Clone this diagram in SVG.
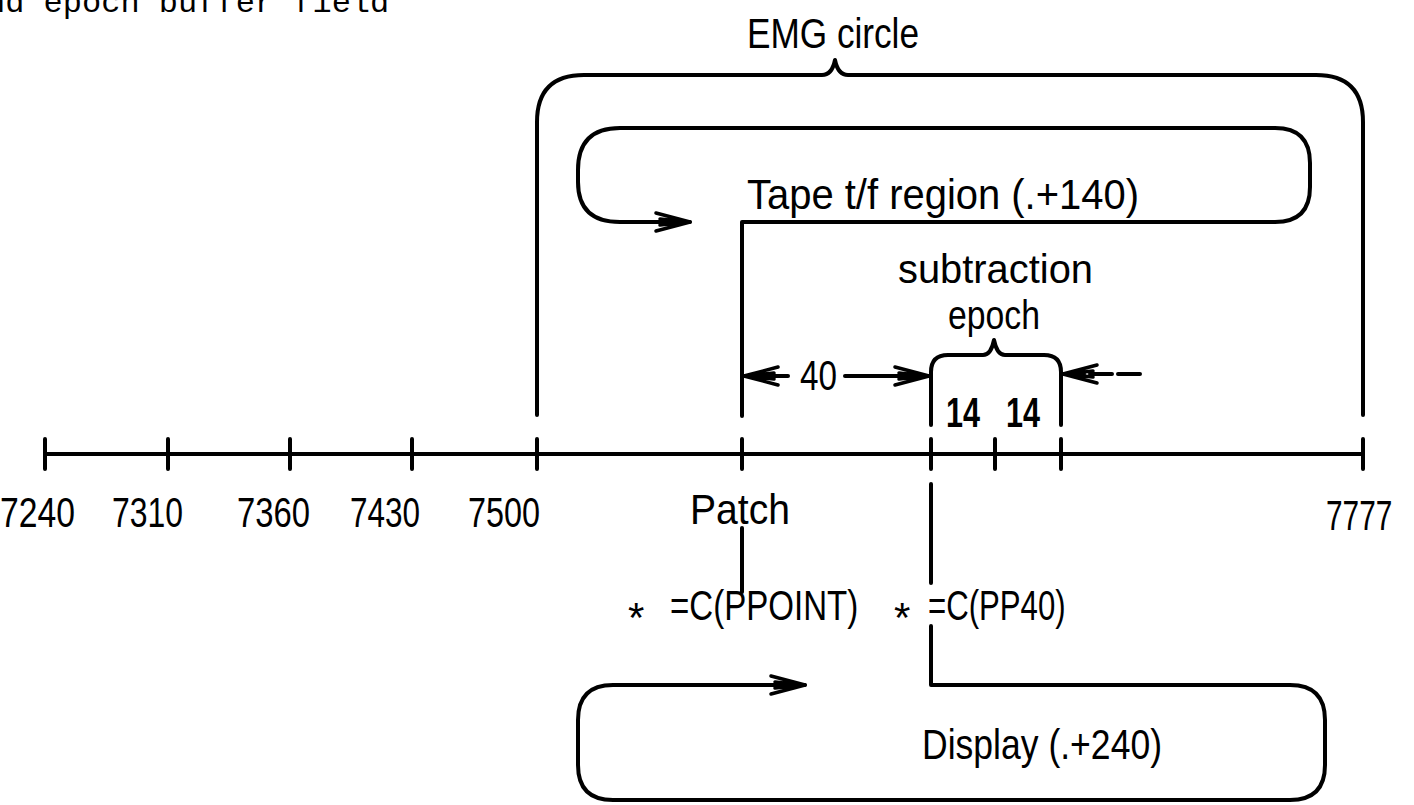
<svg xmlns="http://www.w3.org/2000/svg" width="1414" height="805" viewBox="0 0 1414 805">
<style>
.t{font-family:"Liberation Sans",Arial,sans-serif;font-size:42px;fill:#000}
.s{font-size:40px}
.b{font-weight:bold}
.tw{font-family:"Liberation Mono","Courier New",monospace;font-size:32px;fill:#000}
.ln{fill:none;stroke:#000;stroke-width:4;stroke-linecap:round;stroke-linejoin:round}
.ds{stroke-dasharray:22 6}
.tk{fill:none;stroke:#000;stroke-width:4;stroke-linecap:round}
</style>
<defs>
<marker id="ah" viewBox="-38 -12 42 24" refX="0" refY="0" markerWidth="42" markerHeight="24" markerUnits="userSpaceOnUse" orient="auto">
<path d="M-34,-9 L0,0 L-34,9 M-30,-3 L-2,0 L-30,3" fill="none" stroke="#000" stroke-width="3.5" stroke-linecap="round" stroke-linejoin="round"/>
</marker>
</defs>
<text class="tw" x="-14" y="12">nd epoch buffer field</text>
<g id="axis">
<path class="ln" d="M45,454 H1363"/>
<path class="tk" d="M45,439 V469 M168,439 V469 M290,439 V469 M412,439 V469 M537,439 V469 M742,439 V469 M931,439 V469 M995,439 V469 M1061,439 V469 M1363,439 V469"/>
<text class="t" x="0" y="527" textLength="75" lengthAdjust="spacingAndGlyphs">7240</text>
<text class="t" x="112" y="527" textLength="71" lengthAdjust="spacingAndGlyphs">7310</text>
<text class="t" x="237" y="527" textLength="73" lengthAdjust="spacingAndGlyphs">7360</text>
<text class="t" x="350" y="527" textLength="70" lengthAdjust="spacingAndGlyphs">7430</text>
<text class="t" x="468" y="527" textLength="72" lengthAdjust="spacingAndGlyphs">7500</text>
<text class="t" transform="translate(1326,530) scale(0.71,1)">7777</text>
</g>
<g id="patch">
<text class="t" x="690" y="524" textLength="100" lengthAdjust="spacingAndGlyphs">Patch</text>
</g>
<g id="emg-circle">
<text class="t" x="747" y="48" textLength="172" lengthAdjust="spacingAndGlyphs">EMG circle</text>
</g>
<g id="tape-region">
<text class="t" x="747" y="209" textLength="392" lengthAdjust="spacingAndGlyphs">Tape t/f region (.+140)</text>
</g>
<g id="subtraction-epoch">
<text class="t s" x="898" y="283" textLength="195" lengthAdjust="spacingAndGlyphs">subtraction</text>
<text class="t s" x="948" y="329" textLength="92" lengthAdjust="spacingAndGlyphs">epoch</text>
<text class="t b" x="946" y="427" textLength="34" lengthAdjust="spacingAndGlyphs">14</text>
<text class="t b" x="1006" y="427" textLength="34" lengthAdjust="spacingAndGlyphs">14</text>
</g>
<g id="dim-40">
<text class="t" x="800" y="390" textLength="37" lengthAdjust="spacingAndGlyphs">40</text>
</g>
<g id="ppoint">
<text class="t" x="628" y="632">*</text>
<text class="t" transform="translate(670,620) scale(0.787,1)">=C(PPOINT)</text>
</g>
<g id="pp40">
<text class="t" x="894" y="632">*</text>
<text class="t" transform="translate(928,620) scale(0.742,1)">=C(PP40)</text>
</g>
<g id="display">
<text class="t" x="922" y="759" textLength="240" lengthAdjust="spacingAndGlyphs">Display (.+240)</text>
</g>
<g id="connectors">
<path class="ln" d="M537,415 V122 Q537,75 584,75 H822 Q832,75 835,60 Q838,75 848,75 H1316 Q1363,75 1363,122 V415"/>
<path class="ln" d="M742,416 V222 H1275 Q1310,222 1310,187 V163 Q1310,128 1275,128 H620 Q578,128 578,170 V182 Q578,222 620,222 H690" marker-end="url(#ah)"/>
<path class="ln" d="M931,425 V372 Q931,355 948,355 H983 Q991,355 994,340 Q997,355 1005,355 H1044 Q1061,355 1061,372 V425"/>
<path class="ln" d="M788,376 H744" marker-end="url(#ah)"/>
<path class="ln" d="M845,376 H929" marker-end="url(#ah)"/>
<path class="ln ds" d="M1140,374 H1063" marker-end="url(#ah)"/>
<path class="ln" d="M742,528 V592"/>
<path class="ln" d="M931,484 V583"/>
<path class="ln" d="M931,626 V685 H1290 Q1325,685 1325,720 V765 Q1325,800 1290,800 H613 Q578,800 578,765 V720 Q578,685 613,685 H805" marker-end="url(#ah)"/>
</g>
</svg>
